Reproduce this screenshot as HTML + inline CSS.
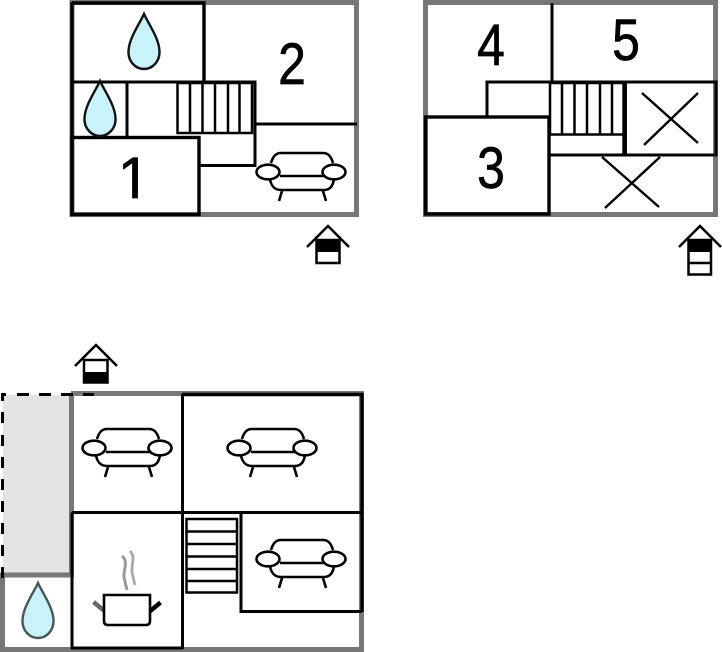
<!DOCTYPE html>
<html>
<head>
<meta charset="utf-8">
<style>
html,body{margin:0;padding:0;background:#fff;width:722px;height:652px;overflow:hidden}
svg{display:block}
text{font-family:"Liberation Sans",Arial,sans-serif;font-size:58px;fill:#000;stroke:#000;stroke-width:.7px;text-anchor:middle}
</style>
</head>
<body>
<svg width="722" height="652" viewBox="0 0 722 652" xmlns="http://www.w3.org/2000/svg">
<defs>
<g id="sofa" fill="none" stroke="#000" stroke-width="2.600">
<path d="M-30,-9 C-28,-16 -25,-19 -20,-19 H22 C27,-19 30,-16 32,-9"/>
<path d="M-21,4 H23"/>
<path d="M-31,7 C-30,14 -26,18 -20,18 H23 C29,18 32,14 33,7"/>
<path d="M-19,19 L-22,29 M22,19 L25,29"/>
<ellipse cx="-33" cy="0" rx="11.500" ry="7.300" fill="#fff"/>
<ellipse cx="33" cy="0" rx="11.500" ry="7.300" fill="#fff"/>
</g>
<path id="drop" d="M0,0 C4,9 15,24 15.500,37 C16,48 8,55 0,55 C-8,55 -16,48 -15.500,37 C-15,24 -4,9 0,0 Z"/>
</defs>

<!-- Plan 1 -->
<rect x="72" y="2.500" width="284.500" height="212" fill="#fff" stroke="#777" stroke-width="5"/>
<g fill="none" stroke="#000" stroke-width="3">
<path d="M72,3 H204 V81.500" stroke-width="3.400"/>
<path d="M72,2 V215" stroke-width="3.400"/>
<path d="M72,82 H255 V165.500 H199"/>
<path d="M127,82 V137"/>
<path d="M255,124 H357"/>
<rect x="72" y="137.500" width="127" height="77" stroke-width="3.400"/>
<rect x="177.500" y="83" width="74.500" height="50" stroke-width="2.500"/>
<path d="M190,83 V133 M202.500,83 V133 M215,83 V133 M228,83 V133 M239.500,83 V133" stroke-width="2.500"/>
</g>
<use href="#drop" x="144" y="14" fill="#c8f3fa" stroke="#111" stroke-width="2.400"/>
<use href="#drop" x="100" y="81" fill="#c8f3fa" stroke="#111" stroke-width="2.400"/>
<use href="#sofa" x="301" y="172"/>
<text transform="translate(292,84) scale(.86,1)">2</text>
<text transform="translate(134,198)">1</text>
<rect x="116" y="193" width="16.100" height="6.500" fill="#fff"/>
<rect x="137.900" y="193" width="16" height="6.500" fill="#fff"/>
<g fill="none" stroke="#000" stroke-width="2.500">
<path d="M307,247 L328,226 L349,247"/>
<rect x="316.500" y="240" width="23" height="23" fill="#fff"/>
</g>
<rect x="316" y="240" width="24" height="12" fill="#000"/>

<!-- Plan 2 -->
<rect x="425.500" y="2.500" width="290" height="212" fill="#fff" stroke="#777" stroke-width="5"/>
<g fill="none" stroke="#000" stroke-width="3">
<path d="M552,3 V82"/>
<path d="M487,117 V82 H716"/>
<rect x="425.500" y="117" width="123.500" height="97" stroke-width="3.400"/>
<rect x="625.500" y="82" width="90.500" height="73" stroke-width="3"/>
<path d="M549,155 H626"/>
<rect x="550" y="83" width="75" height="51.500" stroke-width="2.500"/>
<path d="M562,83 V134 M574.500,83 V134 M587,83 V134 M600,83 V134 M612,83 V134" stroke-width="2.500"/>
<path d="M624,83 V155" stroke-width="3.400"/>
<path d="M642,93 L698,143 M698,93 L644,145" stroke-width="2.400"/>
<path d="M602,157 L659,207 M660,157 L605,208" stroke-width="2.400"/>
</g>
<text transform="translate(491,65) scale(.86,1)">4</text>
<text transform="translate(626,60) scale(.86,1)">5</text>
<text transform="translate(491,188) scale(.86,1)">3</text>
<g fill="none" stroke="#000" stroke-width="2.500">
<path d="M679,247 L700,226 L721,247"/>
<rect x="688.500" y="240" width="22.500" height="34.500" fill="#fff"/>
<path d="M688,263 H711"/>
</g>
<rect x="688" y="240" width="23.500" height="12" fill="#000"/>

<!-- Plan 3 -->
<rect x="3" y="395" width="67" height="180" fill="#e3e3e3"/>
<g fill="none" stroke="#777" stroke-width="5">
<path d="M71.500,393 V577.500"/>
<path d="M0,575 H74"/>
<path d="M2.500,573 V652"/>
<path d="M0,649.500 H364"/>
<path d="M71,393.500 H364"/>
<path d="M361.500,393 V652"/>
</g>
<path d="M2.500,401 V394.500 H6 M17,394.500 H29 M39,394.500 H51 M61,394.500 H73 M83,394.500 H94" fill="none" stroke="#000" stroke-width="3"/>
<path d="M2.500,412 V423 M2.500,435 V446 M2.500,457 V468 M2.500,479 V490 M2.500,501 V512 M2.500,523 V534 M2.500,545 V556 M2.500,567 V578" fill="none" stroke="#000" stroke-width="3"/>
<g fill="none" stroke="#000" stroke-width="3">
<path d="M182,394.500 H362 V612" stroke-width="3.400"/>
<path d="M182.500,394 V649"/>
<path d="M72,512.500 H362"/>
<path d="M72,649 V512.500"/>
<path d="M71,648 H183"/>
<path d="M241,512.500 V611.500 H362"/>
<rect x="186.500" y="519" width="50.500" height="73.500" stroke-width="2.500"/>
<path d="M186,531.500 H237 M186,544 H237 M186,556.500 H237 M186,569 H237 M186,581 H237" stroke-width="2.500"/>
</g>
<use href="#sofa" x="127" y="448"/>
<use href="#sofa" x="272" y="448"/>
<use href="#sofa" x="301" y="559"/>
<use href="#drop" x="38" y="583" fill="#c8f3fa" stroke="#4a5558" stroke-width="2.400"/>
<path d="M93.500,602 L104.500,611" stroke="#666" stroke-width="4.500" fill="none"/>
<path d="M149,612 L160.500,602.500" stroke="#000" stroke-width="4.500" fill="none"/>
<path d="M104,595 H150 V621 Q150,625 146,625 H108 Q104,625 104,621 Z" fill="#fff" stroke="#000" stroke-width="2.600"/>
<path d="M122,556 C129,562 123,570 124,577 C125,582 126,586 127,590" fill="none" stroke="#999" stroke-width="3"/>
<path d="M130,551 C136,557 131,565 132,572 C133,577 134,581 135,585" fill="none" stroke="#aaa" stroke-width="2.800"/>
<g fill="none" stroke="#000" stroke-width="2.500">
<path d="M75,366 L96,345 L117,366"/>
<rect x="84" y="360" width="23.500" height="22.500" fill="#fff"/>
</g>
<rect x="83" y="372" width="25" height="11.500" fill="#000"/>
</svg>
</body>
</html>
